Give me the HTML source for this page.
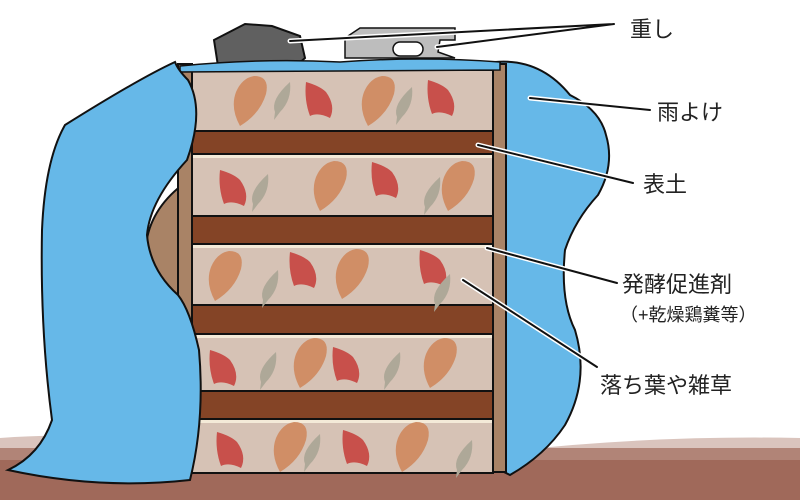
<!DOCTYPE html>
<html><head><meta charset="utf-8"><style>
html,body{margin:0;padding:0;background:#fff;}
svg{display:block;}
text{font-family:"Liberation Sans","Noto Sans CJK JP",sans-serif;fill:#222;}
</style></head><body>
<svg width="800" height="500" viewBox="0 0 800 500" xmlns="http://www.w3.org/2000/svg">
<!-- ground -->
<path d="M0,438 Q100,430 200,450 L500,452 Q650,435 800,438 L800,500 L0,500 Z" fill="#b68a7c" opacity="0.5"/>
<rect x="0" y="460" width="800" height="40" fill="#a0695a"/>
<path d="M0,448 L800,448 L800,470 L0,470Z" fill="#a0695a" opacity="0.7"/>

<!-- right tarp -->
<path d="M495,62 Q540,58 570,95 Q600,110 606,135 Q615,165 598,195 Q575,220 565,250 Q560,300 575,330 Q590,380 565,425 Q545,455 510,475 L500,470 L500,62Z" fill="#66b8e8" stroke="#111" stroke-width="2"/>

<!-- brown shape behind -->
<path d="M182,185 Q150,210 146,245 Q148,285 182,305Z" fill="#a98366" stroke="#111" stroke-width="2"/>

<!-- posts -->
<rect x="178" y="64" width="14" height="408" fill="#a98366" stroke="#111" stroke-width="2"/>
<rect x="493" y="64" width="13" height="408" fill="#a98366" stroke="#111" stroke-width="2"/>

<!-- layers -->
<g stroke="#111" stroke-width="2">
<rect x="192" y="70" width="301" height="61" fill="#d6c2b5"/>
<rect x="192" y="131" width="301" height="23" fill="#844426"/>
<rect x="192" y="156" width="301" height="60" fill="#d6c2b5"/>
<rect x="192" y="216" width="301" height="28" fill="#844426"/>
<rect x="192" y="246" width="301" height="59" fill="#d6c2b5"/>
<rect x="192" y="305" width="301" height="29" fill="#844426"/>
<rect x="192" y="336" width="301" height="55" fill="#d6c2b5"/>
<rect x="192" y="391" width="301" height="28" fill="#844426"/>
<rect x="192" y="421" width="301" height="52" fill="#d6c2b5"/>
</g>
<g fill="#f4ead8"><rect x="193" y="155" width="299" height="3"/><rect x="193" y="245" width="299" height="3"/><rect x="193" y="335" width="299" height="3"/><rect x="193" y="420" width="299" height="3"/></g>

<!-- leaves -->
<g>
<defs>
<path id="lo" d="M4,-24 Q20,-24 16,-6 Q10,14 -10,26 Q-20,8 -14,-8 Q-8,-22 4,-24Z"/>
<path id="lr" d="M-12,-18 Q2,-14 8,-8 Q18,6 12,18 Q0,12 -8,16 Q-14,0 -12,-18Z"/>
<path id="lg" d="M10,-18 Q12,0 0,12 L-6,20 L-5,12 Q-10,0 10,-18Z"/>
</defs>
<g fill="#d08e66"><use href="#lo" x="250" y="100"/><use href="#lo" x="378" y="100"/><use href="#lo" x="330" y="185"/><use href="#lo" x="458" y="185"/><use href="#lo" x="225" y="275"/><use href="#lo" x="352" y="273"/><use href="#lo" x="310" y="362"/><use href="#lo" x="440" y="362"/><use href="#lo" x="290" y="446"/><use href="#lo" x="412" y="446"/></g>
<g fill="#c8504b"><use href="#lr" x="318" y="100"/><use href="#lr" x="440" y="98"/><use href="#lr" x="232" y="188"/><use href="#lr" x="384" y="180"/><use href="#lr" x="302" y="270"/><use href="#lr" x="432" y="268"/><use href="#lr" x="222" y="368"/><use href="#lr" x="345" y="365"/><use href="#lr" x="229" y="450"/><use href="#lr" x="355" y="448"/></g>
<g fill="#aea898"><use href="#lg" x="280" y="100"/><use href="#lg" x="402" y="105"/><use href="#lg" x="258" y="192"/><use href="#lg" x="430" y="195"/><use href="#lg" x="268" y="288"/><use href="#lg" x="440" y="292"/><use href="#lg" x="266" y="370"/><use href="#lg" x="390" y="370"/><use href="#lg" x="310" y="452"/><use href="#lg" x="462" y="458"/></g>
</g>

<!-- weights -->
<path d="M214,40 L245,24 L272,26 L300,36 L305,58 L296,66 L218,66Z" fill="#606060" stroke="#111" stroke-width="2"/>
<path d="M345,38 L360,28 L455,28 L455,40 L440,40 L438,52 L455,58 L345,58Z" fill="#bdbdbd" stroke="#111" stroke-width="1.5"/>
<rect x="393" y="42" width="30" height="14" rx="7" fill="#fff" stroke="#111" stroke-width="1.5"/>

<!-- top tarp strip & left tarp -->
<path d="M180,66 Q260,58 340,62 Q420,56 500,62 L500,70 L180,72Z" fill="#66b8e8" stroke="#111" stroke-width="1.5"/>
<path d="M175,62 Q140,78 65,125 Q45,160 42,230 Q40,330 52,420 Q40,455 8,470 Q100,490 190,480 Q205,420 199,350 Q190,310 178,295 Q150,270 147,235 Q150,200 187,160 Q205,110 188,80 Q178,70 175,62Z" fill="#66b8e8" stroke="#111" stroke-width="2"/>

<!-- leader lines -->
<g stroke-linecap="round" fill="none">
<g stroke="#fff" stroke-width="5">
<path d="M290,41 L614,24 M437,47 L614,24 M530,98 L650,110 M478,145 L633,183 M487,248 L617,283 M463,280 L597,367"/>
</g>
<g stroke="#111" stroke-width="2">
<path d="M290,41 L614,24 M437,47 L614,24 M530,98 L650,110 M478,145 L633,183 M487,248 L617,283 M463,280 L597,367"/>
</g>
</g>

<!-- labels -->
<text x="630" y="37" font-size="22">重し</text>
<text x="657" y="120" font-size="22">雨よけ</text>
<text x="643" y="192" font-size="22">表土</text>
<text x="622" y="292" font-size="22">発酵促進剤</text>
<text x="620" y="321" font-size="18">（+乾燥鶏糞等）</text>
<text x="600" y="393" font-size="22">落ち葉や雑草</text>
</svg>
</body></html>
